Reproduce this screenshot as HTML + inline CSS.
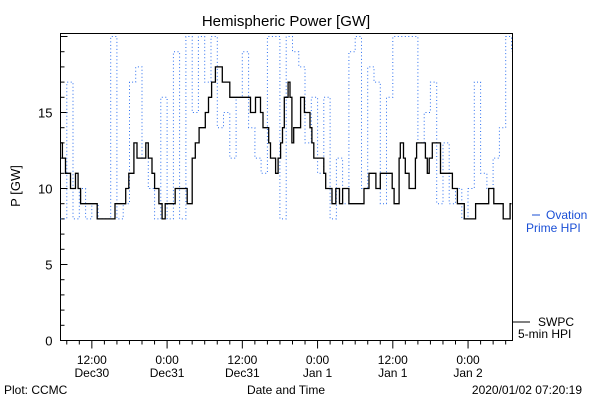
<!DOCTYPE html>
<html><head><meta charset="utf-8">
<style>
html,body{margin:0;padding:0;background:#fff;}
svg{display:block;font-family:"Liberation Sans",sans-serif;}
</style></head>
<body>
<svg id="chart" width="600" height="400" viewBox="0 0 600 400" xmlns="http://www.w3.org/2000/svg">
<rect width="600" height="400" fill="#fff"/>
<text x="286" y="26" font-size="15" text-anchor="middle">Hemispheric Power [GW]</text>
<rect x="60.5" y="33.5" width="452" height="307" fill="none" stroke="#000" stroke-width="1"/>
<g id="yaxis"></g>
<g id="xaxis"></g>
<g id="series"></g>
<text transform="translate(20,186) rotate(-90)" font-size="13" text-anchor="middle">P [GW]</text>
<text x="286" y="394" font-size="12" text-anchor="middle">Date and Time</text>
<text x="4" y="394" font-size="12">Plot: CCMC</text>
<text x="582" y="394" font-size="12" text-anchor="end">2020/01/02 07:20:19</text>
<g fill="#1a4fd6">
<line x1="532" y1="215" x2="540" y2="215" stroke="#1a4fd6"/>
<text x="546" y="219" font-size="12">Ovation</text>
<text x="526" y="232" font-size="12">Prime HPI</text>
</g>
<g>
<line x1="512" y1="322" x2="530" y2="322" stroke="#000"/>
<text x="538" y="326" font-size="12">SWPC</text>
<text x="518" y="338" font-size="12">5-min HPI</text>
</g>
</svg>
<script>
// hours since Dec 30 07:00
const blackTimes=[0,0.3,0.8,1.6,2.4,2.8,3.2,4.0,5.85,8.7,10.4,10.9,11.7,12.2,13.6,14.0,14.6,15.0,15.7,16.2,16.7,18.3,20.2,21.0,21.5,22.1,23.1,23.6,24.1,24.7,25.8,27.0,30.3,31.1,31.9,32.3,32.7,33.2,33.5,34.3,34.7,35.1,35.4,35.7,36.3,36.6,36.9,37.2,38.0,38.3,38.9,39.1,39.8,40.1,40.4,40.7,42.0,42.3,42.7,43.3,43.9,44.5,45.0,46.0,48.1,48.4,49.2,50.3,51.0,52.9,53.2,53.4,54.0,54.2,54.7,55.0,55.6,55.8,56.6,56.8,57.0,58.2,58.5,58.8,59.3,60.6,61.0,62.5,62.7,63.3,64.4,66.2,68.0,68.3,69.1,70.4,70.6,71.7];
const blackValues=[13,12,11,10,11,10,9,9,8,9,10,11,13,12,13,12,11,10,9,8,9,10,9,12,13,14,15,16,17,18,17,16,15,16,15,14,14,13,12,11,12,13,14,16,17,16,13,14,14,16,15,15,14,13,12,12,11,10,10,9,10,9,10,9,9,10,11,10,11,10,9,9,12,13,12,11,10,10,12,13,13,12,11,12,13,11,11,10,10,9,8,9,9,10,9,9,8,9];
const blueValues=[8,17,8,10,8,9,8,8,20,8,9,17,18,12,10,8,16,8,19,8,20,15,20,17,20,14,15,12,16,19,14,12,11,20,20,8,20,19,18,13,16,11,16,8,12,9,19,20,10,18,17,9,16,20,20,20,20,13,15,17,9,13,9,10,8,10,17,11,10,12,14,20,19];
const yTicks=[0,5,10,15];
const xTickHours=[5,17,29,41,53,65];
const xTickLabels=[["12:00","Dec30"],["0:00","Dec31"],["12:00","Dec31"],["0:00","Jan 1"],["12:00","Jan 1"],["0:00","Jan 2"]];
const NS="http://www.w3.org/2000/svg";
const X0=60.5,X1=512.5,Y0=340.5,PX_H=6.27,PX_V=15.2;
function xs(t){return X0+t*PX_H;}
function ys(v){return Y0-v*PX_V;}
function mk(tag,attrs,parent){const e=document.createElementNS(NS,tag);for(const k in attrs)e.setAttribute(k,attrs[k]);parent.appendChild(e);return e;}
const ya=document.getElementById('yaxis'),xa=document.getElementById('xaxis'),sg=document.getElementById('series');
for(let v=0;v<=20;v++){
  const major=v%5===0;
  const t=mk('line',{x1:X0,x2:X0+(major?7:4),y1:ys(v),y2:ys(v),stroke:'#000'},ya);
  
  
}
yTicks.forEach(v=>{
  const l=mk('text',{x:X0-8,y:ys(v)+5,'font-size':13,'text-anchor':'end'},ya);
  l.textContent=v;
  
  
});
for(let h=1;h<=72;h+=2){
  const major=xTickHours.includes(h);
  const t=mk('line',{x1:xs(h),x2:xs(h),y1:Y0,y2:Y0+(major?8:4),stroke:'#000'},xa);
  
  
}
xTickHours.forEach((h,i)=>{
  const a=mk('text',{x:xs(h),y:364,'font-size':12,'text-anchor':'middle'},xa);
  a.textContent=xTickLabels[i][0];
  
  
  const b=mk('text',{x:xs(h),y:377,'font-size':12,'text-anchor':'middle'},xa);
  b.textContent=xTickLabels[i][1];
  
  
});
// blue dotted step series (hourly)
let d='';
blueValues.forEach((v,i)=>{
  const x=Math.min(xs(i),X1-1),y=Math.max(ys(v),34);
  d+=(i===0?'M':'H')+x.toFixed(1)+(i===0?' '+y.toFixed(1):'')+(i===0?'':'V'+y.toFixed(1));
});
const bp=mk('path',{d:d,fill:'none',stroke:'#2a6ef0','stroke-width':1,'stroke-dasharray':'1 2.5'},sg);


// black step series
let d2='';
blackTimes.forEach((t,i)=>{
  const x=xs(t),y=ys(blackValues[i]);
  d2+=i===0?('M'+x.toFixed(1)+' '+y.toFixed(1)):('H'+x.toFixed(1)+'V'+y.toFixed(1));
});
d2+='H'+(X1-1);
const kp=mk('path',{d:d2,fill:'none',stroke:'#000','stroke-width':1.3},sg);


</script>
</body></html>
